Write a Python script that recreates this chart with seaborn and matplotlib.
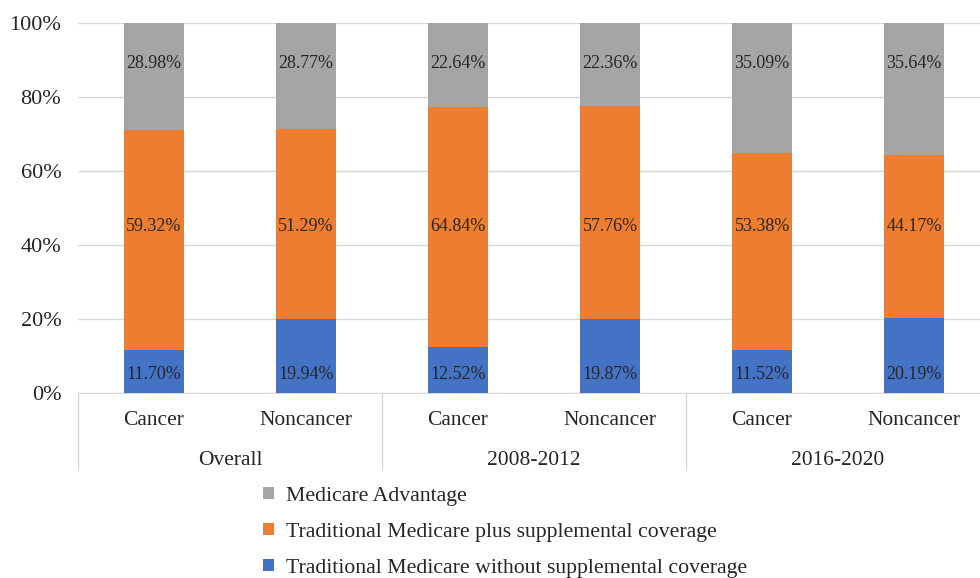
import matplotlib
matplotlib.use('Agg')
import matplotlib.pyplot as plt
import matplotlib.transforms as mtransforms
from matplotlib.patches import Patch
import numpy as np
import pandas as pd
import seaborn as sns

# ── data ────────────────────────────────────────────────────
periods   = ['Overall', '2008-2012', '2016-2020']
groups    = ['Cancer', 'Noncancer']
trad_no   = [11.70, 19.94, 12.52, 19.87, 11.52, 20.19]   # blue
trad_plus = [59.32, 51.29, 64.84, 57.76, 53.38, 44.17]   # orange
advantage = [28.98, 28.77, 22.64, 22.36, 35.09, 35.64]   # gray
series_names = ['Medicare Advantage',
                'Traditional Medicare plus supplemental coverage',
                'Traditional Medicare without supplemental coverage']

GRAY, ORANGE, BLUE = '#A5A5A5', '#ED7D31', '#4472C4'
TXT  = '#262626'
GRID = '#D9D9D9'

sns.set_style('white')
plt.rcParams['font.family'] = ['Liberation Serif', 'DejaVu Serif']

keys = [f'{p}|{g}' for p in periods for g in groups]
df = pd.DataFrame({'key': keys, 'blue': trad_no, 'orange': trad_plus, 'gray': advantage})
df['c_orange'] = df['blue'] + df['orange']
df['c_gray']   = df['c_orange'] + df['gray']

fig = plt.figure(figsize=(9.8, 5.78), dpi=100)
ax = fig.add_axes([78/980, 185/578, 912/980, 370/578])

# stacked bars: draw cumulative totals, back to front
for col, clr in [('c_gray', GRAY), ('c_orange', ORANGE), ('blue', BLUE)]:
    sns.barplot(data=df, x='key', y=col, order=keys, color=clr, width=0.395,
                saturation=1, ax=ax, edgecolor='none', zorder=3)

ax.set_ylim(0, 100)
ax.set_xlim(-0.5, len(keys) - 0.5)
ax.set_yticks(np.arange(0, 101, 20))
ax.set_yticklabels([f'{v}%' for v in range(0, 101, 20)], fontsize=16, color=TXT)
ax.tick_params(axis='y', length=0, pad=12)
ax.grid(True, axis='y', color=GRID, lw=1, zorder=0)
ax.set_axisbelow(True)
for s in ['top', 'right', 'left']:
    ax.spines[s].set_visible(False)
ax.spines['bottom'].set_color(GRID)
ax.set_xticks([])
ax.set_xlabel('')
ax.set_ylabel('')

# data labels (fixed heights like the original)
for i in range(len(keys)):
    ax.text(i, 89.0, f'{advantage[i]:.2f}%', ha='center', va='center', fontsize=13, color=TXT, zorder=5)
    ax.text(i, 45.0, f'{trad_plus[i]:.2f}%', ha='center', va='center', fontsize=13, color=TXT, zorder=5)
    ax.text(i, 5.0, f'{trad_no[i]:.2f}%', ha='center', va='center', fontsize=13, color=TXT, zorder=5)

# two-level category axis
tr = mtransforms.blended_transform_factory(ax.transData, ax.transAxes)
for i, k in enumerate(keys):
    ax.text(i, -0.074, k.split('|')[1], transform=tr, ha='center', va='center',
            fontsize=15.5, color=TXT)
for j, p in enumerate(periods):
    ax.text(2 * j + 0.5, -0.182, p, transform=tr, ha='center', va='center',
            fontsize=15.5, color=TXT)
for xb in [-0.5, 1.5, 3.5]:
    ax.plot([xb, xb], [0, -0.208], transform=tr, color=GRID, lw=1, clip_on=False)

# legend
handles = [Patch(facecolor=c, edgecolor='none') for c in [GRAY, ORANGE, BLUE]]
fig.legend(handles, series_names, loc='upper left', bbox_to_anchor=(243/980, 1 - 467/578),
           frameon=False, fontsize=15.7, handlelength=0.5, handleheight=0.5,
           handletextpad=0.55, labelspacing=0.78, labelcolor=TXT)

fig.savefig('out.png', dpi=100, facecolor='white')
